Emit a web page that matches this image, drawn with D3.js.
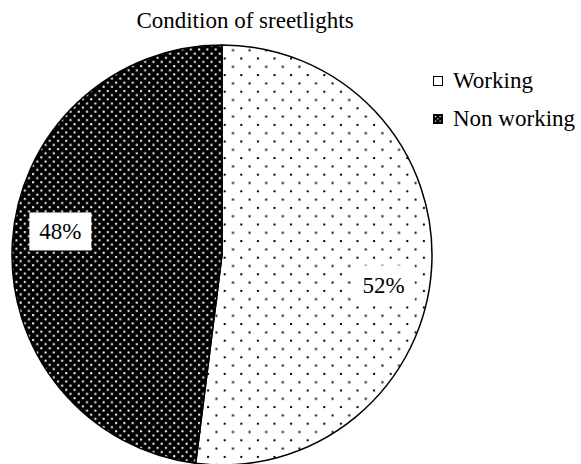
<!DOCTYPE html>
<html>
<head>
<meta charset="utf-8">
<script src="https://cdn.jsdelivr.net/npm/d3@7"></script>
<style>
  body { margin: 0; background: #fff; }
  svg text { font-family: "Liberation Serif", "Times New Roman", Times, serif; }
</style>
</head>
<body>
<script>
// Chart data
const categories = ["Working", "Non working"];
const values = [52, 48];
const labels = ["52%", "48%"];
const title = "Condition of sreetlights";

const width = 581;
const height = 464;
const cx = 222, cy = 255, r = 210;
const font = "Liberation Serif, Times New Roman, serif";

const svg = d3.select("body").append("svg")
    .attr("width", width)
    .attr("height", height)
    .attr("viewBox", [0, 0, width, height]);

// Fill patterns (dotted, like the Excel pattern fills)
const defs = svg.append("defs");

const light = defs.append("pattern")
    .attr("id", "pat-light")
    .attr("patternUnits", "userSpaceOnUse")
    .attr("x", 1.7).attr("y", 1.7)
    .attr("width", 16.6).attr("height", 16.6);
light.append("rect").attr("width", 16.6).attr("height", 16.6).attr("fill", "#fff");
light.append("rect").attr("x", 0).attr("y", 0).attr("width", 2).attr("height", 2).attr("fill", "#000");
light.append("rect").attr("x", 8.3).attr("y", 8.3).attr("width", 2).attr("height", 2).attr("fill", "#000");

const dark = defs.append("pattern")
    .attr("id", "pat-dark")
    .attr("patternUnits", "userSpaceOnUse")
    .attr("width", 8.3).attr("height", 8.3);
dark.append("rect").attr("width", 8.3).attr("height", 8.3).attr("fill", "#000");
dark.append("rect").attr("x", 1).attr("y", 1).attr("width", 2).attr("height", 2).attr("fill", "#fff");
dark.append("rect").attr("x", 5.15).attr("y", 5.15).attr("width", 2).attr("height", 2).attr("fill", "#fff");

const fills = d3.scaleOrdinal()
    .domain(categories)
    .range(["url(#pat-light)", "url(#pat-dark)"]);

// Title
svg.append("text")
    .attr("x", 245)
    .attr("y", 28)
    .attr("text-anchor", "middle")
    .attr("font-family", font)
    .attr("font-size", 23)
    .text(title);

// Pie
const data = categories.map((c, i) => ({ name: c, value: values[i], label: labels[i] }));

const pie = d3.pie()
    .sort(null)
    .value(d => d.value);

const arc = d3.arc()
    .innerRadius(0)
    .outerRadius(r);

const arcs = pie(data);

const g = svg.append("g")
    .attr("transform", `translate(${cx},${cy})`);

g.selectAll("path")
    .data(arcs)
    .enter().append("path")
    .attr("d", arc)
    .attr("fill", d => fills(d.data.name))
    .attr("stroke", "#000")
    .attr("stroke-width", 1.5);

// Data labels with white boxes
const labelRadius = r * 0.78;
const labelArc = d3.arc().innerRadius(labelRadius).outerRadius(labelRadius)
    .startAngle(d => d.startAngle + 0.1)
    .endAngle(d => d.endAngle + 0.1);

const lab = g.selectAll(".label")
    .data(arcs)
    .enter().append("g")
    .attr("class", "label")
    .attr("transform", d => {
        const [x, y] = labelArc.centroid(d);
        return `translate(${x},${y + 3})`;
    });

lab.append("rect")
    .attr("x", -31)
    .attr("y", -19)
    .attr("width", 62)
    .attr("height", 38)
    .attr("fill", "#fff");

lab.append("text")
    .attr("text-anchor", "middle")
    .attr("y", 8)
    .attr("font-family", font)
    .attr("font-size", 23)
    .text(d => d.data.label);

// Legend
const legend = svg.append("g")
    .attr("transform", "translate(433,76)");

const item = legend.selectAll("g")
    .data(categories)
    .enter().append("g")
    .attr("transform", (d, i) => `translate(0,${i * 38})`);

item.append("rect")
    .attr("x", 0.5)
    .attr("y", 0.5)
    .attr("width", 9)
    .attr("height", 9)
    .attr("fill", d => d === "Working" ? "#fff" : "#000")
    .attr("stroke", "#000")
    .attr("stroke-width", 1);

item.filter(d => d !== "Working").selectAll(".dot")
    .data([[2.5, 2.5], [7, 2.5], [2.5, 7], [7, 7], [4.8, 4.8]])
    .enter().append("rect")
    .attr("x", p => p[0] - 0.5)
    .attr("y", p => p[1] - 0.5)
    .attr("width", 1.2)
    .attr("height", 1.2)
    .attr("fill", "#fff");

item.append("text")
    .attr("x", 20)
    .attr("y", 12)
    .attr("font-family", font)
    .attr("font-size", 23)
    .text(d => d);
</script>
</body>
</html>
